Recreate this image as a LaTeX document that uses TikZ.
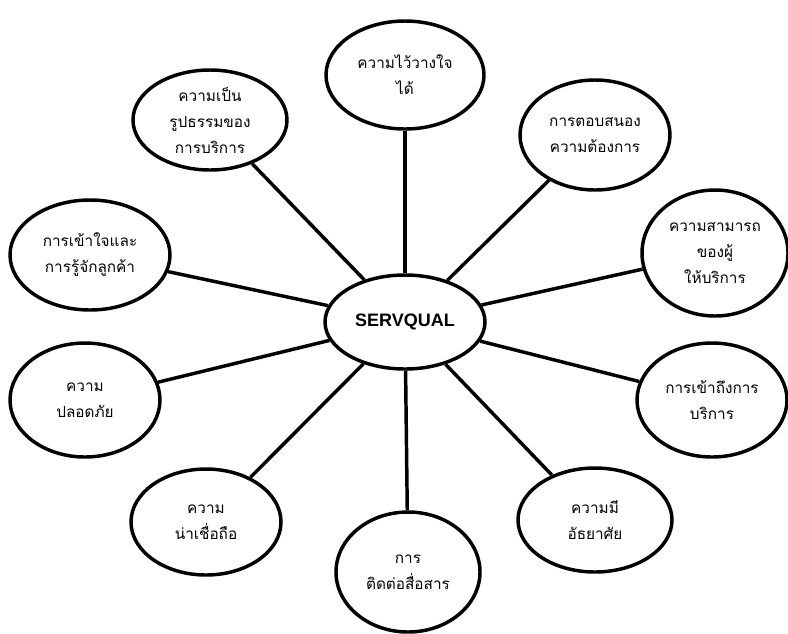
\documentclass[tikz,border=0pt]{standalone}
\usepackage{fontspec}
\newfontfamily\thaifont[Script=Thai]{Loma}
\newfontfamily\labfont{Liberation Sans}
\usetikzlibrary{shapes.geometric}
\tikzset{
  bub/.style={ellipse, draw=black, line width=2.6pt, fill=white, inner sep=0pt, align=center,
    font=\thaifont\fontsize{11.5}{19.5}\selectfont},
  spoke/.style={line width=2.6pt},
}
\begin{document}
\begin{tikzpicture}[x=0.75pt,y=-0.75pt]
\useasboundingbox (0,0) rectangle (788,633);
\node[bub, minimum width=160*0.75pt, minimum height=94*0.75pt, font=\labfont\bfseries\fontsize{13.5}{15}\selectfont] (c) at (405,322) {SERVQUAL};
\node[bub, minimum width=158*0.75pt, minimum height=108*0.75pt] (n1) at (405,75) {ความไว้วางใจ\\ได้};
\node[bub, minimum width=150*0.75pt, minimum height=110*0.75pt] (n2) at (595,135) {การตอบสนอง\\ความต้องการ};
\node[bub, minimum width=146*0.75pt, minimum height=126*0.75pt] (n3) at (715,253) {ความสามารถ\\ของผู้\\ให้บริการ};
\node[bub, minimum width=150*0.75pt, minimum height=114*0.75pt] (n4) at (712,400) {การเข้าถึงการ\\บริการ};
\node[bub, minimum width=154*0.75pt, minimum height=104*0.75pt] (n5) at (595,520) {ความมี\\อัธยาศัย};
\node[bub, minimum width=144*0.75pt, minimum height=120*0.75pt] (n6) at (408,572) {การ\\ติดต่อสื่อสาร};
\node[bub, minimum width=150*0.75pt, minimum height=106*0.75pt] (n7) at (206,522) {ความ\\น่าเชื่อถือ};
\node[bub, minimum width=150*0.75pt, minimum height=114*0.75pt] (n8) at (85,400) {ความ\\ปลอดภัย};
\node[bub, minimum width=160*0.75pt, minimum height=110*0.75pt] (n9) at (90,255) {การเข้าใจและ\\การรู้จักลูกค้า};
\node[bub, minimum width=154*0.75pt, minimum height=100*0.75pt] (n10) at (210,120) {ความเป็น\\รูปธรรมของ\\การบริการ};
\foreach \n in {n1,n2,n3,n4,n5,n6,n7,n8,n9,n10} \draw[spoke] (c) -- (\n);
\end{tikzpicture}
\end{document}
